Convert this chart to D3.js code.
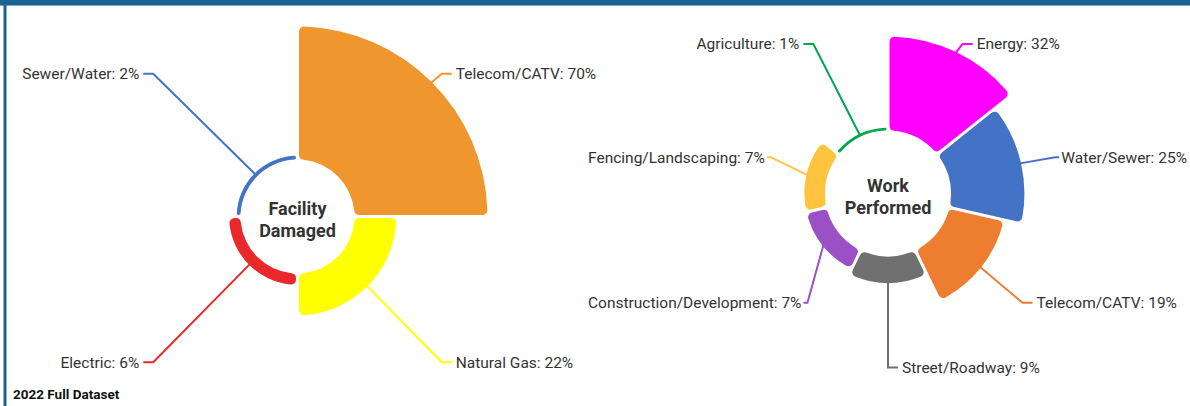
<!DOCTYPE html>
<html>
<head>
<meta charset="utf-8">
<script src="https://cdn.jsdelivr.net/npm/d3@7"></script>
<style>
    html, body { margin: 0; padding: 0; background: #fff; }
    svg { display: block; font-family: Roboto, "Open Sans", sans-serif; }
    .slice-label { font-size: 15.5px; fill: #333; }
    .center-label { font-size: 18px; font-weight: 700; fill: #333; }
    .footer { font-size: 13.5px; font-weight: 700; fill: #111; }
</style>
</head>
<body>
<svg id="chart"></svg>
<script>
// chart data
const facilityCategories = ['Telecom/CATV', 'Natural Gas', 'Electric', 'Sewer/Water'];
const facilityValues = [70, 22, 6, 2];
const facilityColors = ['#F0962F', '#FFFF00', '#E8282B', '#4472C4'];

const workCategories = ['Energy', 'Water/Sewer', 'Telecom/CATV', 'Street/Roadway',
    'Construction/Development', 'Fencing/Landscaping', 'Agriculture'];
const workValues = [32, 25, 19, 9, 7, 7, 1];
const workColors = ['#FF00FF', '#4472C4', '#ED7D31', '#707070', '#9B50C6', '#FFC43D', '#00A651'];

const footerText = '2022 Full Dataset';

const width = 1190;
const height = 406;

const svg = d3.select('#chart')
    .attr('width', width)
    .attr('height', height);

// frame: dark top bar and thin left rule
svg.append('rect').attr('x', 0).attr('y', 0).attr('width', width).attr('height', 5).attr('fill', '#1B6394');
svg.append('rect').attr('x', 0).attr('y', 5).attr('width', width).attr('height', 1).attr('fill', '#7FA9C8');
svg.append('rect').attr('x', 3.5).attr('y', 0).attr('width', 3).attr('height', height).attr('fill', '#1B6394');

// draw one variable-radius donut
function drawRose(opts) {
    const data = opts.categories.map((name, i) => ({
        name: name,
        value: opts.values[i],
        color: opts.colors[i]
    }));

    const rScale = d3.scaleLinear()
        .domain([0, d3.max(opts.values)])
        .range([opts.inner, opts.outer]);

    // every slice gets the same angle, radius carries the value
    const pie = d3.pie().sort(null).value(() => 1);
    const arcs = pie(data);

    const arc = d3.arc()
        .innerRadius(opts.inner)
        .outerRadius(d => rScale(d.data.value))
        .padAngle(0.03)
        .padRadius(100)
        .cornerRadius(5);

    const g = svg.append('g')
        .attr('transform', `translate(${opts.cx},${opts.cy})`);

    g.selectAll('path.slice')
        .data(arcs)
        .join('path')
        .attr('class', 'slice')
        .attr('d', arc)
        .attr('fill', d => d.data.color);

    // labels with crooked connectors
    const labels = g.append('g');
    arcs.forEach(d => {
        const mid = (d.startAngle + d.endAngle) / 2;
        const sin = Math.sin(mid);
        const cos = Math.cos(mid);
        const side = sin >= -1e-9 ? 1 : -1;
        const r0 = rScale(d.data.value) - 1;

        const start = [r0 * sin, -r0 * cos];
        let knee = [opts.labelR * sin, -opts.labelR * cos + opts.labelShift];
        knee[1] = Math.max(knee[1], opts.minY - opts.cy);

        const text = labels.append('text')
            .attr('class', 'slice-label')
            .attr('dy', '0.35em')
            .text(`${d.data.name}: ${d.data.value}%`);
        const tw = text.node().getComputedTextLength();

        let elbow = knee[0] + side * 10;
        let tx = elbow + side * 4;
        // keep labels inside the panel, shortening the crook
        if (side < 0 && opts.cx + tx - tw < opts.minX) {
            tx = opts.minX - opts.cx + tw;
            elbow = tx + 2;
            knee[0] = tx + 6;
        }
        if (side > 0 && opts.cx + tx + tw > opts.maxX) {
            tx = opts.maxX - opts.cx - tw;
            elbow = tx - 2;
            knee[0] = Math.min(knee[0], tx - 6);
        }

        text.attr('x', tx)
            .attr('y', knee[1])
            .attr('text-anchor', side > 0 ? 'start' : 'end');

        labels.insert('path', 'text')
            .attr('d', d3.line()([start, knee, [elbow, knee[1]]]))
            .attr('fill', 'none')
            .attr('stroke', d.data.color)
            .attr('stroke-width', 2);
    });

    // centre title
    const title = g.append('text')
        .attr('class', 'center-label')
        .attr('text-anchor', 'middle');
    opts.title.forEach((line, i) => {
        title.append('tspan')
            .attr('x', 0)
            .attr('y', -1.5 + i * 21.5)
            .text(line);
    });
}

drawRose({
    categories: facilityCategories,
    values: facilityValues,
    colors: facilityColors,
    cx: 297.5, cy: 216.5,
    inner: 57, outer: 190,
    labelR: 204, labelShift: 1.5,
    minY: 40, minX: 12, maxX: 600,
    title: ['Facility', 'Damaged']
});

drawRose({
    categories: workCategories,
    values: workValues,
    colors: workColors,
    cx: 888, cy: 193.5,
    inner: 63, outer: 157,
    labelR: 172, labelShift: 2,
    minY: 44, minX: 588, maxX: 1187,
    title: ['Work', 'Performed']
});

svg.append('text')
    .attr('class', 'footer')
    .attr('x', 13)
    .attr('y', 399)
    .text(footerText);
</script>
</body>
</html>
